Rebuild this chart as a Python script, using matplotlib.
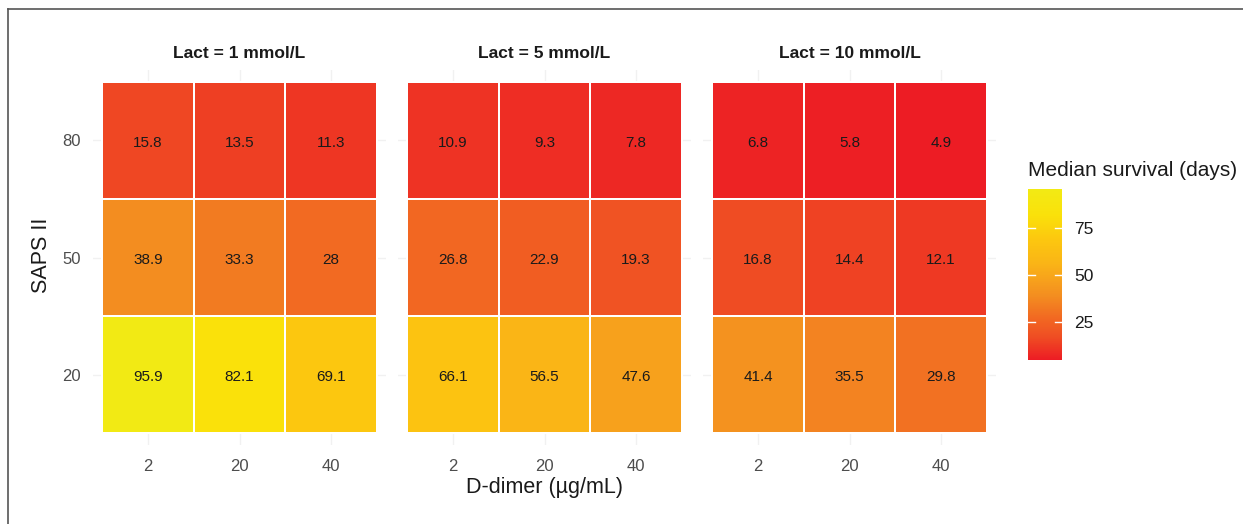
import numpy as np
import matplotlib
matplotlib.use("Agg")
import matplotlib.pyplot as plt
from matplotlib.colors import LinearSegmentedColormap, Normalize
from matplotlib.lines import Line2D

plt.rcParams['font.family'] = ['Liberation Sans', 'DejaVu Sans']

# data
lact_labels = ['Lact = 1 mmol/L', 'Lact = 5 mmol/L', 'Lact = 10 mmol/L']
ddimer = ['2', '20', '40']
saps = ['20', '50', '80']
# rows = SAPS II (20, 50, 80), cols = D-dimer (2, 20, 40)
surv_lact1 = [[95.9, 82.1, 69.1], [38.9, 33.3, 28.0], [15.8, 13.5, 11.3]]
surv_lact5 = [[66.1, 56.5, 47.6], [26.8, 22.9, 19.3], [10.9, 9.3, 7.8]]
surv_lact10 = [[41.4, 35.5, 29.8], [16.8, 14.4, 12.1], [6.8, 5.8, 4.9]]
cbar_ticks = [25, 50, 75]

panels = [surv_lact1, surv_lact5, surv_lact10]
allvals = np.array(panels)
vmin, vmax = allvals.min(), allvals.max()

cmap = LinearSegmentedColormap.from_list('surv', [
    (0.0, '#ED1C24'), (0.13, '#EF4C23'), (0.254, '#F26B22'),
    (0.374, '#F38D20'), (0.469, '#F7A11C'), (0.567, '#FAB516'),
    (0.705, '#FCC70F'), (0.848, '#FAE10A'), (1.0, '#F2EA14')])
norm = Normalize(vmin=vmin, vmax=vmax)

W, H = 1243, 524
fig = plt.figure(figsize=(W / 100, H / 100), dpi=100)


def px_rect(x, y, w, h):
    return [x / W, 1 - (y + h) / H, w / W, h / H]


lefts = [93, 398, 703]
ptop, pbot, pw = 70, 445, 293
txt_gray = '#4D4D4D'

for i, (data, lab) in enumerate(zip(panels, lact_labels)):
    ax = fig.add_axes(px_rect(lefts[i], ptop, pw, pbot - ptop))
    z = np.array(data)
    xe = np.arange(len(ddimer) + 1) + 0.5
    ye = np.arange(len(saps) + 1) + 0.5
    ax.pcolormesh(xe, ye, z, cmap=cmap, norm=norm, edgecolor='white', linewidth=1.3, zorder=2)
    for r in range(len(saps)):
        for c in range(len(ddimer)):
            ax.text(c + 1, r + 1 - 0.02, f'{z[r, c]:g}', ha='center', va='center',
                    fontsize=11, color='#1A1A1A', zorder=3)
    ax.set_xlim(0.4, len(ddimer) + 0.6)
    ax.set_ylim(0.4, len(saps) + 0.6)
    ax.set_xticks(np.arange(1, len(ddimer) + 1))
    ax.set_xticklabels(ddimer)
    ax.set_yticks(np.arange(1, len(saps) + 1))
    ax.set_yticklabels(saps if i == 0 else [])
    ax.set_axisbelow(True)
    ax.grid(color='#F1F1F1', linewidth=1.0, zorder=0)
    for s in ax.spines.values():
        s.set_visible(False)
    ax.tick_params(axis='x', length=0, pad=10, labelsize=12, colors=txt_gray)
    ax.tick_params(axis='y', length=0, pad=8.5, labelsize=12, colors=txt_gray)
    fig.text((lefts[i] + pw / 2) / W, 1 - 54 / H, lab, ha='center', va='center',
             fontsize=12.5, fontweight='bold', color='#1A1A1A')

fig.text(545 / W, 1 - 488 / H, 'D-dimer (µg/mL)', ha='center', va='center',
         fontsize=15.5, color='#1A1A1A')
fig.text(42 / W, 1 - 255 / H, 'SAPS II', ha='center', va='center', rotation=90,
         fontsize=15.5, color='#1A1A1A')

# colourbar
fig.text(1028 / W, 1 - 170 / H, 'Median survival (days)', ha='left', va='center',
         fontsize=15, color='#1A1A1A')
cax = fig.add_axes(px_rect(1028, 189, 34, 171))
sm = plt.cm.ScalarMappable(norm=norm, cmap=cmap)
cb = fig.colorbar(sm, cax=cax, ticks=cbar_ticks)
cb.outline.set_visible(False)
cax.tick_params(length=0, pad=9, labelsize=12.5, colors='#1A1A1A')
tr = cax.get_yaxis_transform()
for t in cbar_ticks:
    cax.plot([0, 0.2], [t, t], color='white', lw=1, transform=tr)
    cax.plot([0.8, 1], [t, t], color='white', lw=1, transform=tr)

# figure frame (left + top edges)
fig.add_artist(Line2D([7.5 / W, 7.5 / W], [0, 1 - 8.5 / H], color='#555555', lw=1.2))
fig.add_artist(Line2D([7.5 / W, 1], [1 - 8.5 / H, 1 - 8.5 / H], color='#555555', lw=1.2))

fig.savefig('out.png', dpi=100)
